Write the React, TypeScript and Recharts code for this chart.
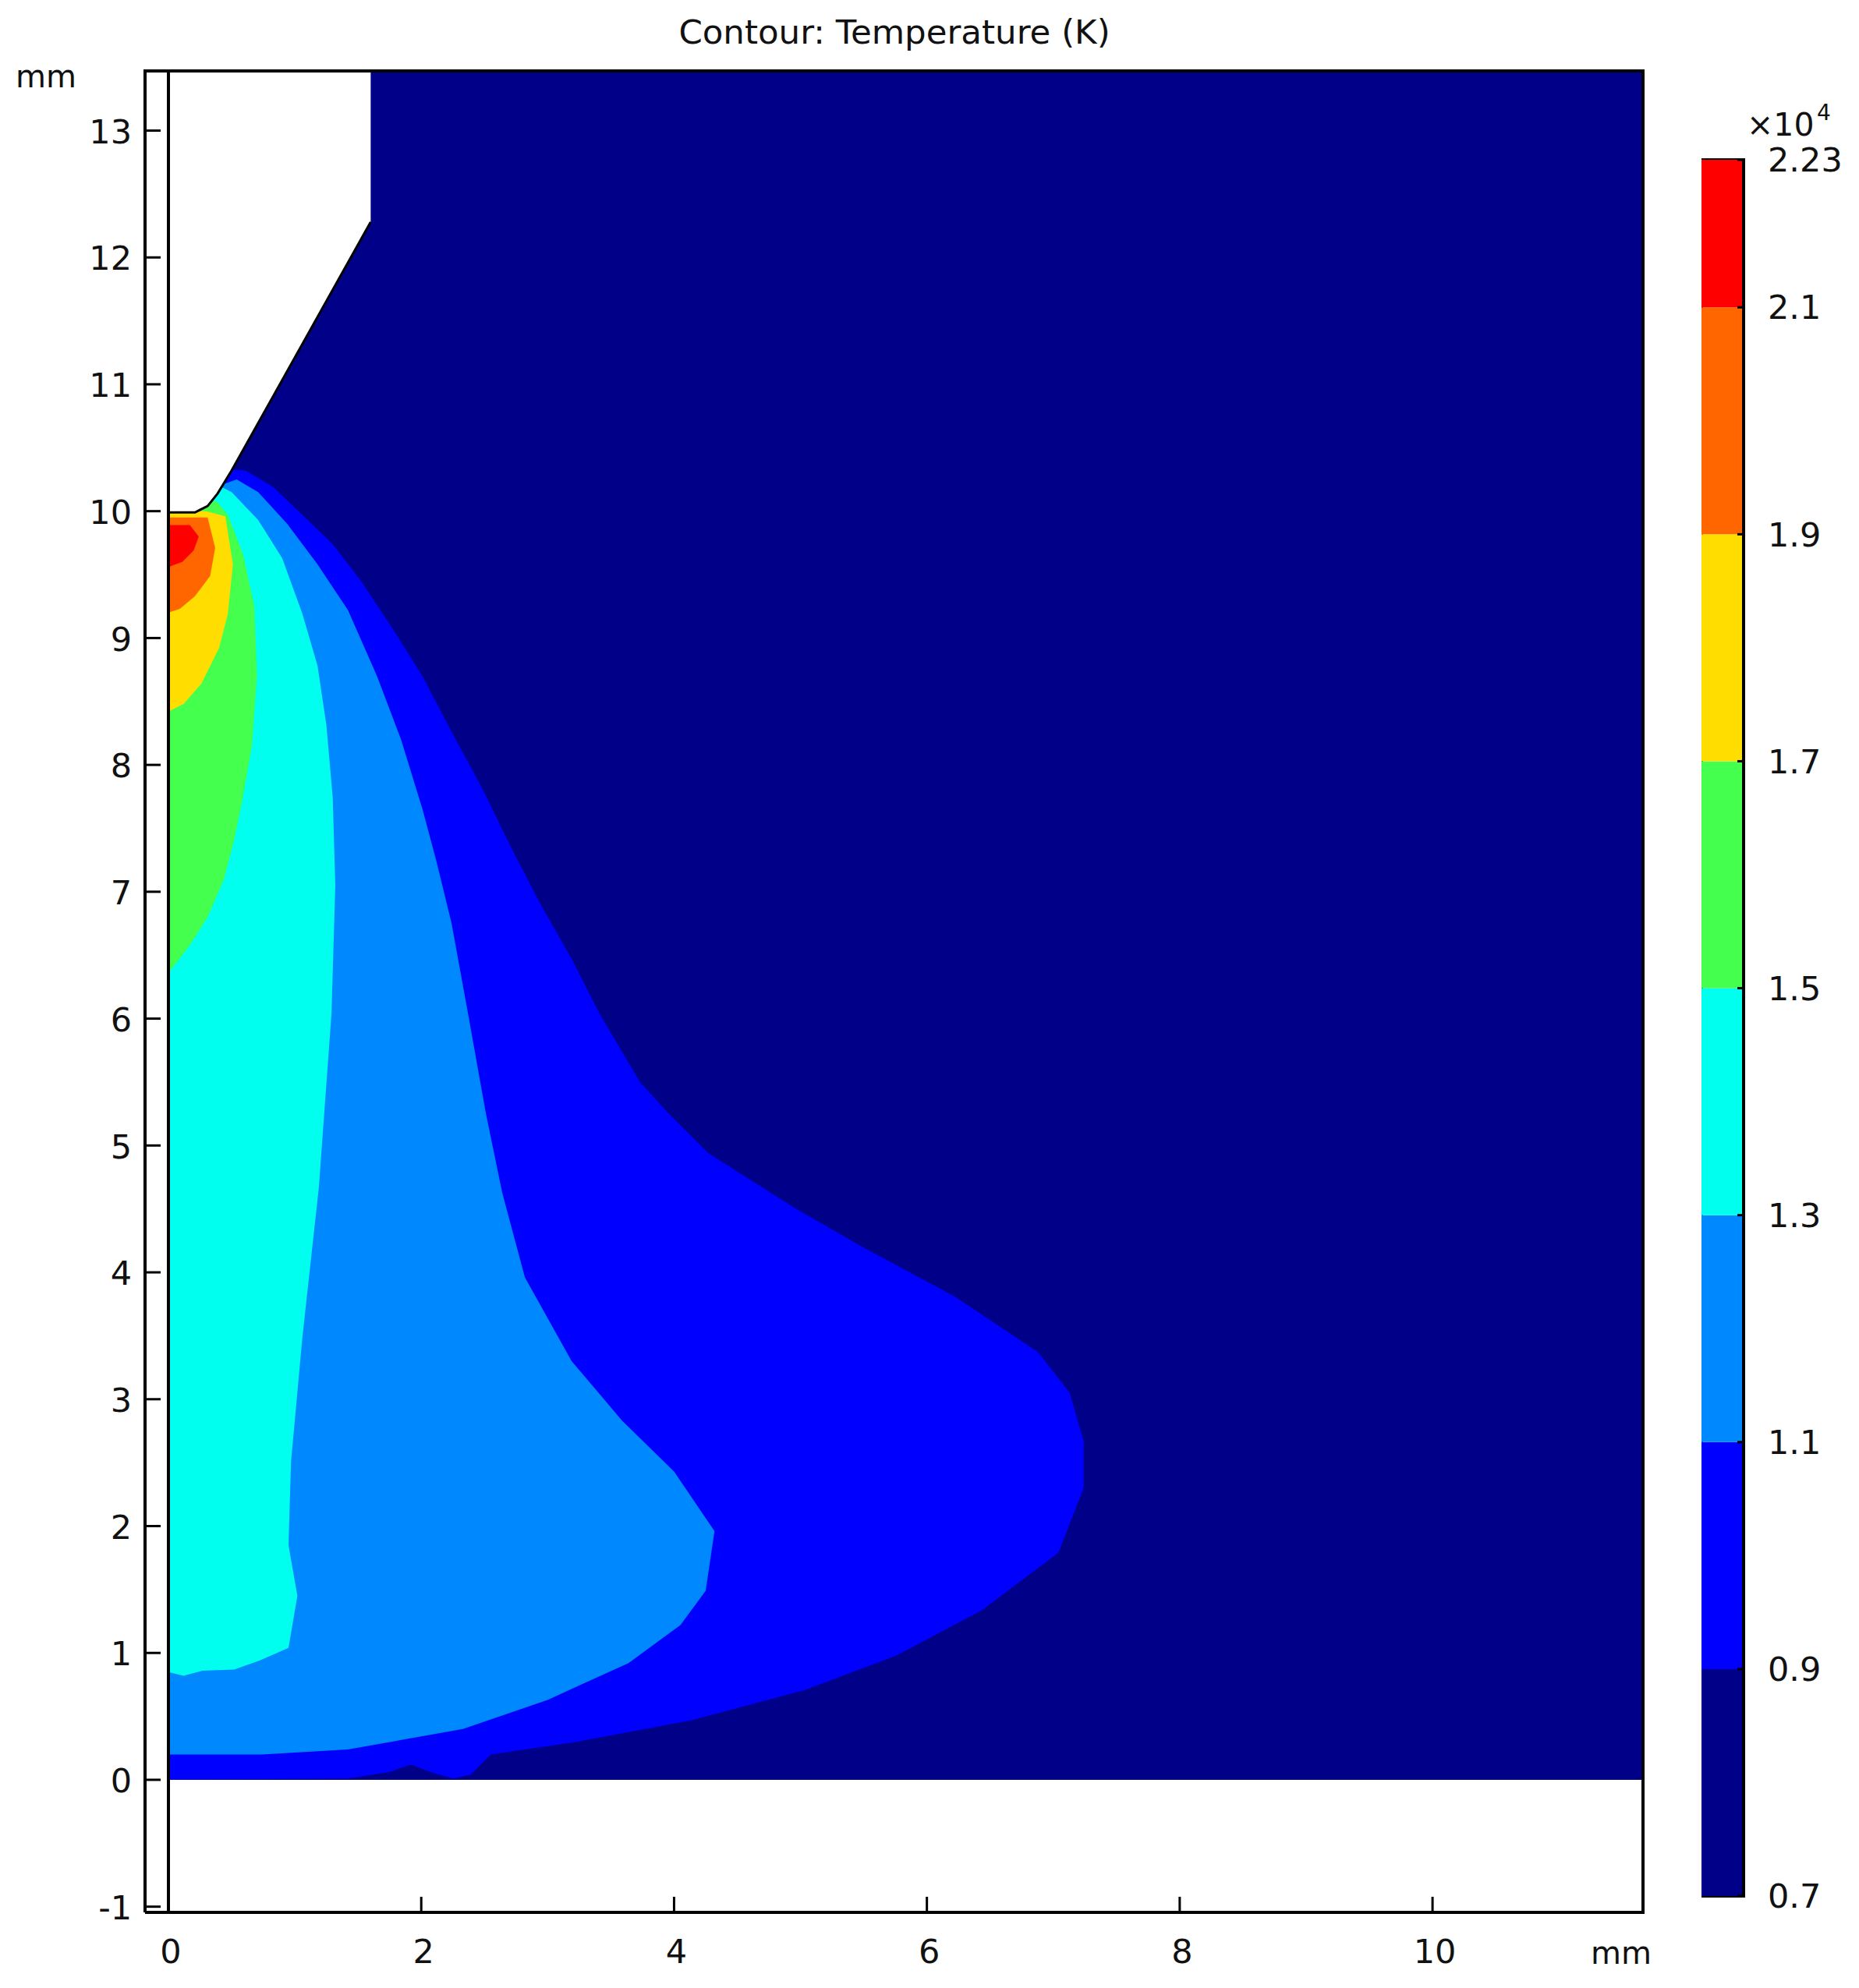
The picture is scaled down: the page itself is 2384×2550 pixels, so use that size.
import { Bar, ComposedChart, ReferenceArea, Scatter, ScatterChart, XAxis, YAxis } from "recharts";

const FONT = "DejaVu Sans";
const X_DOMAIN = [-0.185, 11.665];
const Y_DOMAIN = [-1.045, 13.47];

// contour outlines in mm as [r, z]
const domainOutline = [[0, 0], [11.665, 0], [11.665, 13.47], [0, 13.47]];
const frameOutline = [[-0.185, -1.045], [11.665, -1.045], [11.665, 13.47], [-0.185, 13.47], [-0.185, -1.045]];
const symmetryAxis = [[0, -1.045], [0, 13.47]];
const cathodeOutline = [[0, 13.47], [1.6, 13.47], [1.6, 12.28], [0.5, 10.32], [0.39, 10.14], [0.31, 10.04], [0.21, 9.99], [0, 9.99]];
const cathodeEdge = [[0, 9.99], [0.21, 9.99], [0.31, 10.04], [0.39, 10.14], [0.5, 10.32], [1.6, 12.28]];
const level09 = [[0, 0], [1.42, 0.01], [1.74, 0.06], [1.92, 0.12], [2.08, 0.06], [2.25, 0.01], [2.39, 0.04], [2.55, 0.2], [3.23, 0.3], [4.14, 0.47], [5.04, 0.71], [5.76, 0.98], [6.44, 1.34], [7.04, 1.79], [7.24, 2.3], [7.24, 2.67], [7.13, 3.05], [6.88, 3.37], [6.22, 3.81], [5.49, 4.2], [4.95, 4.51], [4.27, 4.94], [3.95, 5.26], [3.73, 5.5], [3.41, 6.04], [3.19, 6.47], [2.95, 6.89], [2.71, 7.35], [2.48, 7.82], [2.24, 8.26], [2.01, 8.7], [1.77, 9.08], [1.53, 9.44], [1.3, 9.74], [1.06, 9.97], [0.83, 10.19], [0.61, 10.32], [0.47, 10.33], [0, 10]];
const level11 = [[0, 0.2], [0.74, 0.2], [1.42, 0.24], [2.33, 0.4], [3.0, 0.63], [3.64, 0.92], [4.05, 1.22], [4.25, 1.49], [4.32, 1.96], [4.0, 2.43], [3.59, 2.83], [3.19, 3.3], [2.82, 3.96], [2.64, 4.63], [2.51, 5.26], [2.37, 6.04], [2.24, 6.75], [2.12, 7.24], [2.01, 7.65], [1.84, 8.2], [1.65, 8.7], [1.42, 9.22], [1.18, 9.58], [0.94, 9.9], [0.71, 10.15], [0.54, 10.25], [0.4, 10.2], [0, 10]];
const level13 = [[0, 0.85], [0.12, 0.82], [0.27, 0.86], [0.52, 0.87], [0.72, 0.94], [0.95, 1.04], [1.02, 1.45], [0.95, 1.85], [0.97, 2.51], [1.06, 3.49], [1.19, 4.67], [1.29, 6.04], [1.32, 7.05], [1.3, 7.74], [1.25, 8.31], [1.18, 8.78], [1.06, 9.19], [0.9, 9.63], [0.71, 9.93], [0.5, 10.15], [0.4, 10.2], [0, 10]];
const level15 = [[0, 6.36], [0.17, 6.58], [0.31, 6.8], [0.44, 7.1], [0.52, 7.41], [0.58, 7.7], [0.66, 8.15], [0.7, 8.7], [0.68, 9.25], [0.59, 9.66], [0.47, 9.97], [0.38, 10.08], [0, 10]];
const level17 = [[0, 8.42], [0.12, 8.48], [0.26, 8.64], [0.4, 8.92], [0.47, 9.19], [0.51, 9.58], [0.45, 9.96], [0.3, 10], [0, 10]];
const level19 = [[0, 9.2], [0.09, 9.23], [0.21, 9.33], [0.33, 9.49], [0.37, 9.71], [0.31, 9.95], [0, 9.95]];
const level21 = [[0, 9.56], [0.11, 9.6], [0.2, 9.69], [0.24, 9.8], [0.17, 9.89], [0, 9.89]];

const contourLevels = [level09, level11, level13, level15, level17, level19, level21];
const bandColors = ["#000088", "#0000ff", "#0088ff", "#00ffee", "#44ff4d", "#ffdd00", "#ff6600", "#ff0000"];

const xTicks = [0, 2, 4, 6, 8, 10];
const yTicks = [-1, 0, 1, 2, 3, 4, 5, 6, 7, 8, 9, 10, 11, 12, 13];
const barTicks = [0.7, 0.9, 1.1, 1.3, 1.5, 1.7, 1.9, 2.1, 2.23];
const barSteps = [0.9, 0.2, 0.2, 0.2, 0.2, 0.2, 0.2, 0.13];

const toPoints = (outline: number[][]) => outline.map(([x, y]) => ({ x, y }));
const noDot = () => <g />;
const noLabel = () => <g />;

const barRow: Record<string, number | string> = { name: "T" };
barSteps.forEach((v, i) => {
  barRow["b" + i] = v;
});

const tickStyle = { fill: "#111", fontFamily: FONT, fontSize: 43 };
const axisLine = { stroke: "#000", strokeWidth: 4 };
const tickLine = { stroke: "#000", strokeWidth: 3 };
const textProps = { fontFamily: FONT, fill: "#111", dominantBaseline: "central" as const };

function ColorBar() {
  return (
    <ComposedChart
      width={201}
      height={2310}
      data={[barRow]}
      barCategoryGap={0}
      margin={{ top: 40, right: 0, bottom: 43, left: 0 }}
    >
      <XAxis dataKey="name" hide />
      <YAxis
        yAxisId="right"
        orientation="right"
        type="number"
        width={147}
        domain={[0.7, 2.23]}
        ticks={barTicks}
        interval={0}
        allowDataOverflow
        tick={tickStyle}
        tickSize={-8}
        tickMargin={39}
        axisLine={axisLine}
        tickLine={tickLine}
      />
      <YAxis
        yAxisId="left"
        orientation="left"
        type="number"
        width={0}
        domain={[0.7, 2.23]}
        ticks={barTicks}
        interval={0}
        tick={noLabel}
        tickSize={-8}
        axisLine={axisLine}
        tickLine={tickLine}
      />
      {barSteps.map((_, i) => (
        <Bar key={i} yAxisId="right" dataKey={"b" + i} stackId="t" fill={bandColors[i]} isAnimationActive={false} />
      ))}
      <Scatter yAxisId="left" dataKey="b1" shape={noDot} isAnimationActive={false} />
      <ReferenceArea yAxisId="right" y1={0.7} y2={2.23} fill="none" stroke="#000" strokeWidth={4} />
    </ComposedChart>
  );
}

export default function App() {
  return (
    <div style={{ position: "absolute", left: 0, top: 0, width: 2384, height: 2550, background: "#fff", overflow: "hidden" }}>
      <ScatterChart width={2384} height={2550} margin={{ top: 91, right: 277, bottom: 0, left: 0 }}>
        <XAxis
          type="number"
          dataKey="x"
          domain={X_DOMAIN}
          ticks={xTicks}
          interval={0}
          allowDataOverflow
          height={97}
          tick={{ ...tickStyle, dx: 3 }}
          tickSize={-20}
          tickMargin={54}
          axisLine={axisLine}
          tickLine={tickLine}
        />
        <YAxis
          type="number"
          dataKey="y"
          domain={Y_DOMAIN}
          ticks={yTicks}
          interval={0}
          allowDataOverflow
          width={186}
          tick={{ ...tickStyle, dy: 1 }}
          tickSize={-20}
          tickMargin={37}
          axisLine={axisLine}
          tickLine={tickLine}
        />
        <XAxis
          xAxisId="top"
          orientation="top"
          type="number"
          dataKey="x"
          domain={X_DOMAIN}
          ticks={xTicks}
          interval={0}
          height={0}
          tick={noLabel}
          tickSize={-20}
          axisLine={axisLine}
          tickLine={tickLine}
        />
        <YAxis
          yAxisId="right"
          orientation="right"
          type="number"
          dataKey="y"
          domain={Y_DOMAIN}
          ticks={yTicks}
          interval={0}
          width={0}
          tick={noLabel}
          tickSize={-20}
          axisLine={axisLine}
          tickLine={tickLine}
        />
        <Scatter
          data={toPoints(domainOutline)}
          shape={noDot}
          line={{ fill: bandColors[0], stroke: "none" }}
          isAnimationActive={false}
        />
        {contourLevels.map((outline, i) => (
          <Scatter
            key={i}
            data={toPoints(outline)}
            shape={noDot}
            line={{ fill: bandColors[i + 1], stroke: "none" }}
            isAnimationActive={false}
          />
        ))}
        <Scatter
          data={toPoints(cathodeOutline)}
          shape={noDot}
          line={{ fill: "#fff", stroke: "none" }}
          isAnimationActive={false}
        />
        <Scatter
          data={toPoints(cathodeEdge)}
          shape={noDot}
          line={{ fill: "none", stroke: "#000", strokeWidth: 3 }}
          isAnimationActive={false}
        />
        <Scatter
          data={toPoints(symmetryAxis)}
          shape={noDot}
          line={{ fill: "none", stroke: "#000", strokeWidth: 4 }}
          isAnimationActive={false}
        />
        <Scatter
          xAxisId="top"
          yAxisId="right"
          data={toPoints(frameOutline)}
          shape={noDot}
          line={{ fill: "none", stroke: "#000", strokeWidth: 4 }}
          isAnimationActive={false}
        />
        <text x={1147} y={41} textAnchor="middle" fontSize={43.5} {...textProps}>
          Contour: Temperature (K)
        </text>
        <text x={20} y={98} fontSize={40} {...textProps}>
          mm
        </text>
        <text x={2040} y={2505} fontSize={40} {...textProps}>
          mm
        </text>
        <text x={2240} y={160} fontSize={41} {...textProps}>
          ×10
        </text>
        <text x={2330} y={144} fontSize={28} {...textProps}>
          4
        </text>
      </ScatterChart>
      <div style={{ position: "absolute", left: 2182, top: 165 }}>
        <ColorBar />
      </div>
    </div>
  );
}
